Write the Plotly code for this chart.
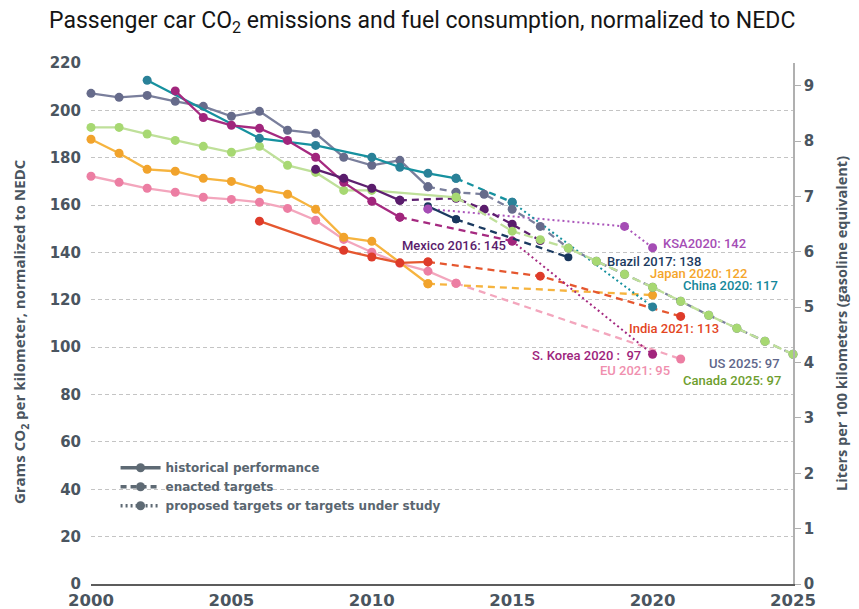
import plotly.graph_objects as go

# ---------------- data (g CO2/km, NEDC) ----------------
us_hist_x = list(range(2000, 2013))
us_hist_y = [207.2, 205.5, 206.3, 203.8, 201.7, 197.5, 199.6, 191.6, 190.3, 180.2, 176.8, 178.9, 167.7]
us_enact_x = [2012, 2013, 2014, 2015, 2016, 2017, 2018, 2019, 2020, 2021, 2022, 2023, 2024, 2025]
us_enact_y = [167.7, 165.4, 164.6, 158.2, 151.0, 141.8, 136.3, 130.8, 125.3, 119.4, 113.5, 108.0, 102.5, 97.0]

ca_hist_x = [2000, 2001, 2002, 2003, 2004, 2005, 2006, 2007, 2008, 2009, 2010, 2013]
ca_hist_y = [192.8, 192.8, 190.0, 187.3, 184.8, 182.3, 184.8, 176.8, 173.8, 166.2, 166.2, 163.3]
ca_enact_x = [2013, 2015, 2016, 2017, 2018, 2019, 2020, 2021, 2022, 2023, 2024, 2025]
ca_enact_y = [163.3, 149.0, 145.4, 141.8, 136.3, 130.8, 125.3, 119.4, 113.5, 108.0, 102.5, 97.0]

cn_hist_x = [2002, 2006, 2008, 2010, 2011, 2012, 2013]
cn_hist_y = [212.7, 188.2, 185.2, 180.2, 176.0, 173.4, 171.3]
cn_enact_x = [2013, 2015]
cn_enact_y = [171.3, 161.2]
cn_prop_x = [2015, 2020]
cn_prop_y = [161.2, 117.0]

jp_hist_x = [2000, 2001, 2002, 2003, 2004, 2005, 2006, 2007, 2008, 2009, 2010, 2012]
jp_hist_y = [187.8, 181.9, 175.1, 174.3, 171.3, 170.0, 166.7, 164.6, 158.2, 146.4, 144.7, 126.8]
jp_enact_x = [2012, 2020]
jp_enact_y = [126.8, 122.0]

eu_hist_x = list(range(2000, 2014))
eu_hist_y = [172.2, 169.6, 167.1, 165.4, 163.3, 162.4, 161.2, 158.6, 153.6, 145.5, 140.1, 135.4, 132.1, 127.0]
eu_enact_x = [2013, 2021]
eu_enact_y = [127.0, 95.0]

in_hist_x = [2006, 2009, 2010, 2011, 2012]
in_hist_y = [153.2, 140.9, 138.1, 135.6, 136.0]
in_enact_x = [2012, 2016, 2021]
in_enact_y = [136.0, 130.0, 113.0]

kr_hist_x = [2003, 2004, 2005, 2006, 2007, 2008, 2009, 2010, 2011]
kr_hist_y = [208.2, 197.0, 193.7, 192.4, 187.3, 180.2, 169.6, 161.6, 154.9]
kr_enact_x = [2011, 2015]
kr_enact_y = [154.9, 144.8]
kr_prop_x = [2015, 2020]
kr_prop_y = [144.8, 97.0]

mx_hist_x = [2008, 2009, 2010, 2011]
mx_hist_y = [175.1, 171.3, 167.1, 162.0]
mx_enact_x = [2011, 2013, 2014, 2015, 2016]
mx_enact_y = [162.0, 162.9, 158.2, 151.9, 145.0]

br_hist_x = [2012, 2013]
br_hist_y = [159.5, 154.0]
br_enact_x = [2013, 2017]
br_enact_y = [154.0, 138.0]

sa_hist_x = [2012]
sa_hist_y = [158.4]
sa_prop_x = [2012, 2019, 2020]
sa_prop_y = [158.4, 151.0, 142.0]

labels = ["KSA2020: 142", "Brazil 2017: 138", "Japan 2020: 122", "China 2020: 117",
          "India 2021: 113", "S. Korea 2020 :  97", "EU 2021: 95", "US 2025: 97",
          "Canada 2025: 97", "Mexico 2016: 145"]
label_x = [2020.3, 2018.3, 2019.85, 2021.0, 2019.1, 2015.62, 2018.05, 2021.95, 2021.0, 2011.0]
label_y = [143.9, 136.3, 131.3, 125.9, 108.0, 96.6, 90.3, 93.2, 86.1, 143.0]

legend_names = ["historical performance", "enacted targets", "proposed targets or targets under study"]

G_PER_L = 23.38  # g CO2/km per L/100km gasoline

# ---------------- styles ----------------
C = {
    "us": ("#7a7f9c", "#666b8b"),
    "ca": ("#bfe09a", "#a7d872"),
    "cn": ("#16919f", "#2a8198"),
    "jp": ("#f6b43f", "#f1a32c"),
    "eu": ("#f3a6bd", "#ec7ea3"),
    "in": ("#e5572f", "#de3b2a"),
    "kr": ("#a52a80", "#a1257c"),
    "mx": ("#5e2070", "#5a1c6c"),
    "br": ("#1b3a60", "#18365c"),
    "sa": ("#aa55ba", "#a54db5"),
}
label_colors = ["#a54db5", "#1b3a60", "#f5a52b", "#14879a", "#e3461f", "#9e247c",
                "#f08fae", "#60668a", "#6e9e2e", "#5a1c6c"]

fig = go.Figure()


def add(x, y, key, kind, msize=9):
    lc, mc = C[key]
    dash = {"hist": "solid", "enact": "7px,5px", "prop": "2px,3px"}[kind]
    width = 2.3 if kind != "prop" else 2.0
    fig.add_trace(go.Scatter(
        x=x, y=y, mode="lines+markers",
        line=dict(color=lc, width=width, dash=dash),
        marker=dict(color=mc, size=msize),
        showlegend=False, hoverinfo="skip", cliponaxis=False))


add(eu_enact_x, eu_enact_y, "eu", "enact")
add(jp_enact_x, jp_enact_y, "jp", "enact")
add(in_enact_x, in_enact_y, "in", "enact")
add(kr_prop_x, kr_prop_y, "kr", "prop")
add(sa_prop_x, sa_prop_y, "sa", "prop")
add(kr_enact_x, kr_enact_y, "kr", "enact")
add(br_enact_x, br_enact_y, "br", "enact", 8)
add(mx_enact_x, mx_enact_y, "mx", "enact")
add(cn_prop_x, cn_prop_y, "cn", "prop")
add(cn_enact_x, cn_enact_y, "cn", "enact")
add(us_enact_x, us_enact_y, "us", "enact")
lc, mc = C["ca"]
fig.add_trace(go.Scatter(x=ca_enact_x, y=ca_enact_y, mode="lines+markers",
                         line=dict(color=lc, width=2.3, dash="9px,4px"),
                         marker=dict(color=mc, size=9), showlegend=False,
                         hoverinfo="skip", cliponaxis=False))
add(ca_hist_x, ca_hist_y, "ca", "hist")
add(eu_hist_x, eu_hist_y, "eu", "hist")
add(jp_hist_x, jp_hist_y, "jp", "hist")
add(in_hist_x, in_hist_y, "in", "hist")
add(us_hist_x, us_hist_y, "us", "hist")
add(cn_hist_x, cn_hist_y, "cn", "hist")
add(kr_hist_x, kr_hist_y, "kr", "hist")
add(mx_hist_x, mx_hist_y, "mx", "hist")
add(br_hist_x, br_hist_y, "br", "hist", 8)
add(sa_hist_x, sa_hist_y, "sa", "hist")

# legend entries
for name, dash in zip(legend_names, ["solid", "6px,4px", "2px,3px"]):
    fig.add_trace(go.Scatter(x=[None], y=[None], mode="lines+markers", name=name,
                             line=dict(color="#5e6a74", width=3.5, dash=dash),
                             marker=dict(color="#5e6a74", size=9), hoverinfo="skip"))

# dummy for right axis
fig.add_trace(go.Scatter(x=[2000], y=[0], yaxis="y2", mode="markers",
                         marker=dict(opacity=0), showlegend=False, hoverinfo="skip"))

for t, x, y, c in zip(labels, label_x, label_y, label_colors):
    fig.add_annotation(x=x, y=y, xref="x", yref="y", text=t, showarrow=False,
                       xanchor="left", yanchor="middle",
                       font=dict(family="Roboto", size=13, color=c, weight=500))

ytickfont = dict(family="DejaVu Sans", size=15, color="#4a5560", weight="bold")
xtickfont = dict(family="DejaVu Sans", size=16.5, color="#4a5560", weight="bold")

fig.update_layout(
    width=851, height=601,
    margin=dict(l=83, r=66, t=55, b=25),
    paper_bgcolor="white", plot_bgcolor="white",
    xaxis=dict(range=[2000, 2025], tickvals=[2000, 2005, 2010, 2015, 2020, 2025],
               showgrid=False, showline=True, linecolor="#5c5c5c", linewidth=1.5,
               ticks="", tickfont=xtickfont, zeroline=False, fixedrange=True,
               automargin=False),
    yaxis=dict(range=[0, 220], dtick=20, showgrid=True, gridcolor="#c4c4c4",
               griddash="4px,3px", gridwidth=1, zeroline=False, showline=False,
               tickfont=ytickfont, ticks="", fixedrange=True, automargin=False,
               ticklabelstandoff=9),
    yaxis2=dict(range=[0, 220 / G_PER_L], dtick=1, overlaying="y", side="right",
                showgrid=False, zeroline=False, showline=True, linecolor="#b0b0b0",
                linewidth=1.5, ticks="outside", ticklen=6, tickcolor="#b0b0b0",
                tickfont=ytickfont, fixedrange=True, automargin=False),
    legend=dict(x=0.035, y=0.251, xanchor="left", yanchor="top",
                font=dict(family="DejaVu Sans", size=12, color="#5a6670", weight="bold"),
                bgcolor="rgba(0,0,0,0)", itemwidth=40, tracegroupgap=0),
    showlegend=True,
)

fig.add_annotation(xref="paper", yref="paper", x=-0.063, y=1.078, xanchor="left",
                   yanchor="middle", showarrow=False,
                   text="Passenger car CO<sub>2</sub> emissions and fuel consumption, normalized to NEDC",
                   font=dict(family="Roboto", size=23, color="#151515"))
fig.add_annotation(xref="paper", yref="paper", x=-0.1, y=0.485, xanchor="center",
                   yanchor="middle", showarrow=False, textangle=-90,
                   text="Grams CO<sub>2</sub> per kilometer, normalized to NEDC",
                   font=dict(family="Open Sans", size=15, color="#4a5560", weight="bold"))
fig.add_annotation(xref="paper", yref="paper", x=1.069, y=0.5, xanchor="center",
                   yanchor="middle", showarrow=False, textangle=-90,
                   text="Liters per 100 kilometers (gasoline equivalent)",
                   font=dict(family="Open Sans", size=14.5, color="#4a5560", weight="bold"))

fig.write_html("out.html")
